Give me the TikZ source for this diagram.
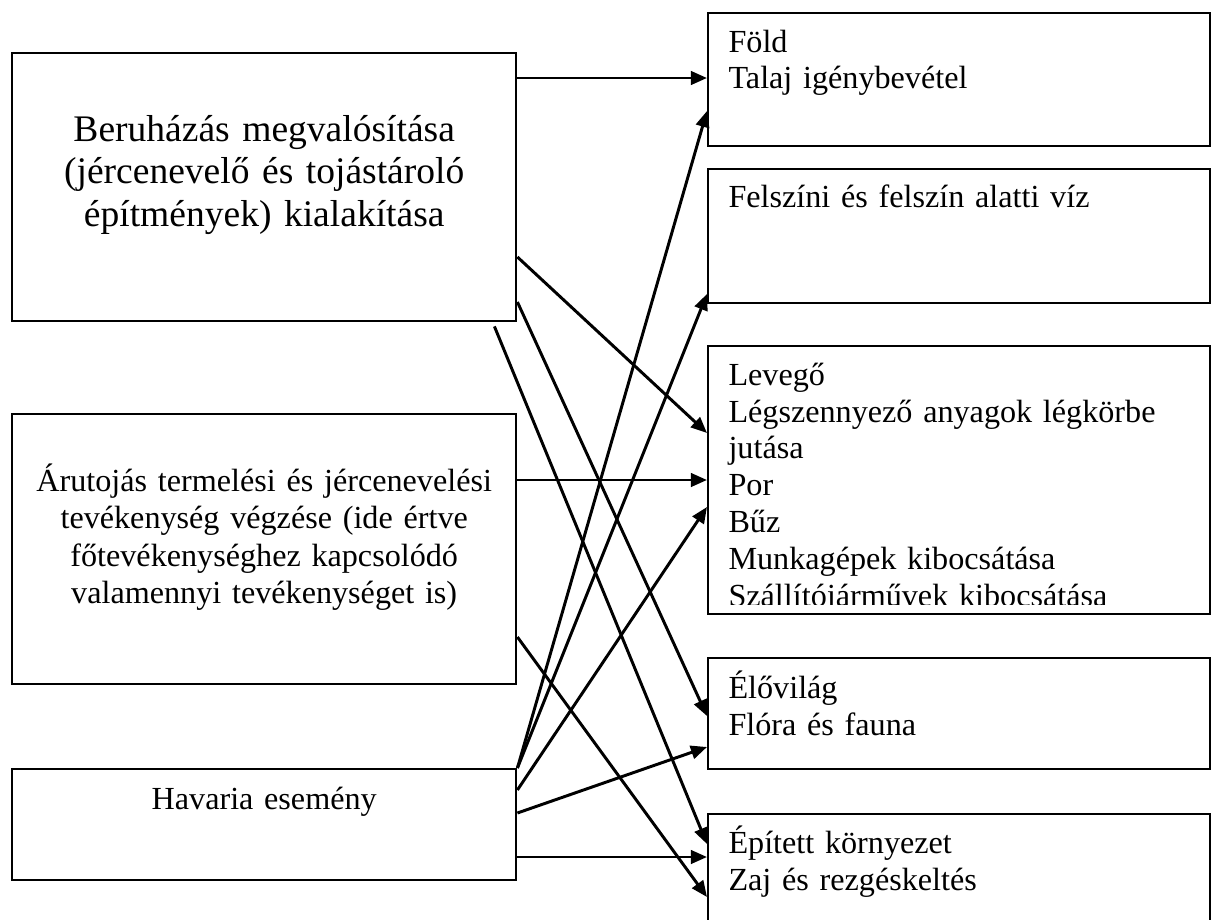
\documentclass[tikz,border=0pt]{standalone}
\usepackage{fontspec}
\setmainfont{Liberation Serif}
\usetikzlibrary{arrows.meta,positioning}

\newlength\px
\setlength\px{0.373pt}

\tikzset{
    box/.style={draw, line width=0.9pt, inner sep=0pt, anchor=north west},
    lbox/.style={box, minimum width=504\px},
    rbox/.style={box, minimum width=502\px},
    ltext/.style={anchor=base, inner sep=0pt, text width=490\px, align=center, font=\fontsize{12}{14}\selectfont},
    rtext/.style={anchor=base west, inner sep=0pt, text width=470\px, align=left, font=\fontsize{12}{13.8}\selectfont},
    hatas/.style={-{Triangle[length=6pt,width=5pt]}, line width=1.1pt}
}

\begin{document}
\begin{tikzpicture}[x=0.373pt, y=-0.373pt]
    \path[use as bounding box] (0,0) rectangle (1211,920);
    \clip (0,0) rectangle (1211,920);

    % tevekenysegek
    \node[lbox, minimum height=268\px] (beru) at (11,52) {};
    \node[lbox, minimum height=270\px] (aru) at (11,413) {};
    \node[lbox, minimum height=111\px] (hav) at (11,768) {};
    \node[ltext, font=\fontsize{14}{15.9}\selectfont] (beru-t) at ([shift={(0,89)}]beru.north)
        {Beruházás megvalósítása\\ (jércenevelő és tojástároló\\ építmények) kialakítása};
    \node[ltext] (aru-t) at ([shift={(0,78)}]aru.north)
        {Árutojás termelési és jércenevelési\\ tevékenység végzése (ide értve\\ főtevékenységhez kapcsolódó\\ valamennyi tevékenységet is)};
    \node[ltext] (hav-t) at ([shift={(0,41)}]hav.north) {Havaria esemény};

    % kornyezeti elemek
    \node[rbox, minimum height=133\px] (fold) at (707,12) {};
    \node[rbox, minimum height=134\px] (viz) at (707,168) {};
    \node[rbox, minimum height=268\px] (lev) at (707,345) {};
    \node[rbox, minimum height=111\px] (elo) at (707,657) {};
    \node[rbox, minimum height=150\px] (epi) at (707,813) {};
    \node[rtext] (fold-t) at ([shift={(21,40)}]fold.north west) {Föld\\ Talaj igénybevétel};
    \node[rtext] (viz-t) at ([shift={(21,39)}]viz.north west) {Felszíni és felszín alatti víz};
    \begin{scope}
        \clip (lev.north west) rectangle ([shift={(0,-11)}]lev.south east);
        \node[rtext] (lev-t) at ([shift={(21,40)}]lev.north west)
            {Levegő\\ Légszennyező anyagok légkörbe\\ jutása\\ Por\\ Bűz\\ Munkagépek kibocsátása\\ Szállítójárművek kibocsátása};
    \end{scope}
    \node[rtext] (elo-t) at ([shift={(21,41)}]elo.north west) {Élővilág\\ Flóra és fauna};
    \node[rtext] (epi-t) at ([shift={(21,40)}]epi.north west) {Épített környezet\\ Zaj és rezgéskeltés};

    % hatasok
    \draw[hatas] (beru.east |- 0,78) -- (fold.west |- 0,78);
    \draw[hatas] (beru.east |- 0,257) -- (lev.west |- 0,433);
    \draw[hatas] (beru.east |- 0,302) -- (elo.west |- 0,716);
    \draw[hatas] ([shift={(-23,4)}]beru.south east) -- (epi.west |- 0,844);
    \draw[hatas] (aru.east |- 0,480) -- (lev.west |- 0,480);
    \draw[hatas] (aru.east |- 0,637) -- (epi.west |- 0,897);
    \draw[hatas] (hav.north east) -- (fold.west |- 0,111);
    \draw[hatas] (hav.north east) -- (viz.west |- 0,294);
    \draw[hatas] (hav.east |- 0,790) -- (lev.west |- 0,507);
    \draw[hatas] (hav.east |- 0,813) -- (elo.west |- 0,747);
    \draw[hatas] (hav.east |- 0,857) -- (epi.west |- 0,857);
\end{tikzpicture}
\end{document}
